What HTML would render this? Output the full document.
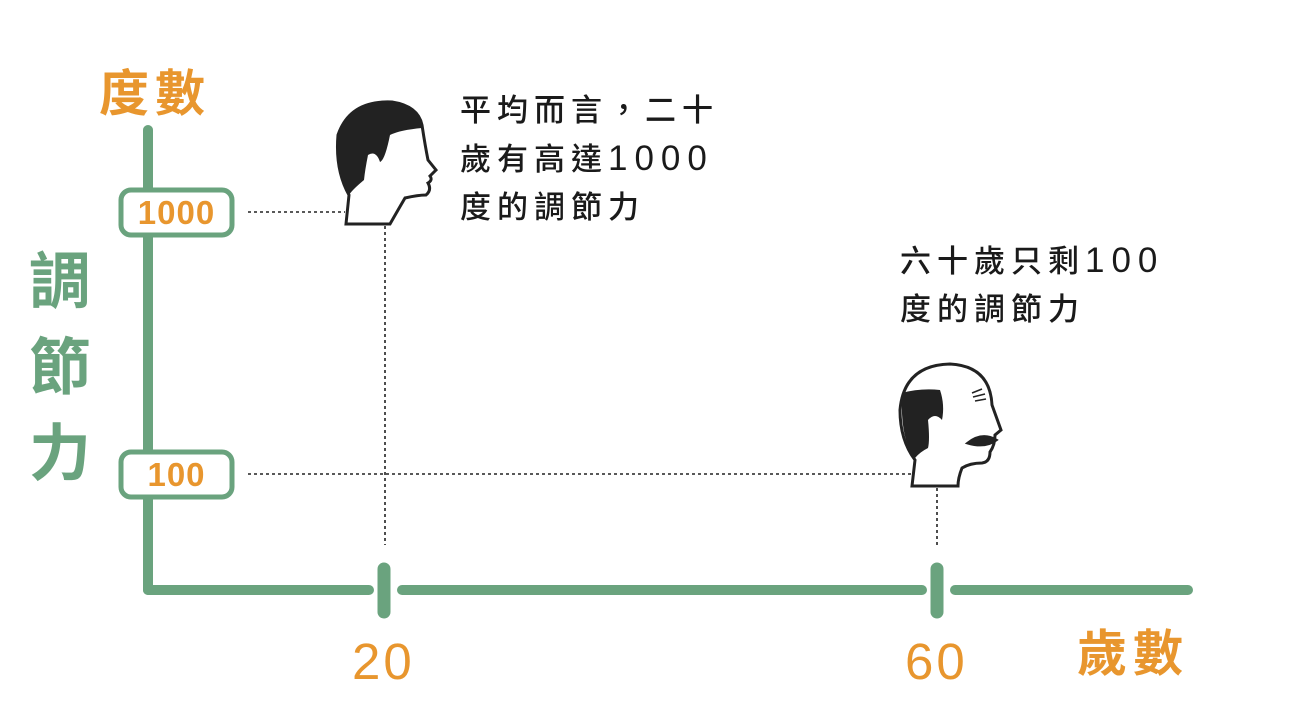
<!DOCTYPE html>
<html><head><meta charset="utf-8"><style>
body{margin:0;width:1296px;height:718px;background:#fff;position:relative;overflow:hidden;font-family:"Liberation Sans","Noto Sans CJK TC",sans-serif}
.t{position:absolute;white-space:nowrap}
.txt{font-size:31px;letter-spacing:6px;line-height:48px;color:#1a1a1a;font-weight:500}
.txt span{font-size:35px;letter-spacing:7px}
.or{color:#e8962e;font-weight:bold}
.gr{color:#6aa37e;font-weight:bold}
</style></head><body>
<svg width="1296" height="718" style="position:absolute;left:0;top:0">
<g stroke="#6aa37e" stroke-linecap="round" fill="none">
<line x1="148" y1="130" x2="148" y2="590" stroke-width="10"/>
<line x1="148" y1="590" x2="369" y2="590" stroke-width="10"/>
<line x1="402" y1="590" x2="922" y2="590" stroke-width="10"/>
<line x1="955" y1="590" x2="1188" y2="590" stroke-width="10"/>
<line x1="384" y1="569" x2="384" y2="612" stroke-width="13"/>
<line x1="937" y1="569" x2="937" y2="612" stroke-width="13"/>
<rect x="121" y="190" width="111" height="45" rx="10" fill="#fff" stroke-width="5"/>
<rect x="121" y="452" width="111" height="45" rx="10" fill="#fff" stroke-width="5"/>
</g>
<g stroke="#222" stroke-width="1.6" stroke-dasharray="3,3" fill="none">
<line x1="248" y1="212" x2="345" y2="212"/>
<line x1="385" y1="226" x2="385" y2="545"/>
<line x1="248" y1="474" x2="912" y2="474"/>
<line x1="937" y1="488" x2="937" y2="545"/>
</g>
<path d="M346 224 L349 195 Q335 170 338 135 Q350 100 392 102 Q418 106 422 125 Q425 145 428 160 L436 170 L430 176 Q433 180 428 183 Q432 190 426 195 Q418 195 405 198 Q398 210 390 224 Z" fill="#fff" stroke="#222" stroke-width="3"/>
<path d="M338 135 Q350 100 392 102 Q418 106 422 128 Q400 130 390 135 Q385 160 380 162 Q376 150 368 155 Q365 170 364 180 Q352 190 349 195 Q335 170 338 135 Z" fill="#222"/>
<path d="M912 486 L915 460 Q900 440 900 410 Q904 365 950 364 Q990 366 992 405 L1001 430 L995 435 Q995 445 990 452 Q990 462 982 463 Q970 463 962 468 Q958 478 958 486 Z" fill="#fff" stroke="#222" stroke-width="3"/>
<path d="M902 393 Q920 388 940 390 Q945 405 942 420 Q935 412 928 420 Q930 440 928 448 Q920 452 915 458 Q900 440 902 393 Z" fill="#222"/>
<path d="M968 443 Q982 432 996 440 Q985 448 968 443 Z" fill="#222" stroke="#222" stroke-width="3"/>
<g stroke="#222" stroke-width="1.5"><line x1="972" y1="393" x2="982" y2="389"/><line x1="973" y1="397" x2="985" y2="394"/><line x1="975" y1="401" x2="986" y2="399"/></g>
</svg>
<div class="t or" style="left:99px;top:54px;font-size:50px;letter-spacing:6px">度數</div>
<div class="t or" style="left:1077px;top:614px;font-size:50px;letter-spacing:6px">歲數</div>
<div class="t gr" style="left:29px;top:240px;font-size:62px;line-height:86px;width:64px;white-space:normal">調節力</div>
<div class="t or" style="left:121px;top:192px;width:111px;text-align:center;font-size:33px;line-height:42px;font-weight:600;letter-spacing:1px">1000</div>
<div class="t or" style="left:121px;top:454px;width:111px;text-align:center;font-size:33px;line-height:42px;font-weight:600;letter-spacing:1px">100</div>
<div class="t or" style="left:352px;top:632px;font-size:51px;letter-spacing:3px;font-weight:normal">20</div>
<div class="t or" style="left:905px;top:632px;font-size:51px;letter-spacing:3px;font-weight:normal">60</div>
<div class="t txt" style="left:460px;top:87px">平均而言，二十<br>歲有高達<span>1000</span><br>度的調節力</div>
<div class="t txt" style="left:900px;top:237px">六十歲只剩<span>100</span><br>度的調節力</div>
</body></html>
